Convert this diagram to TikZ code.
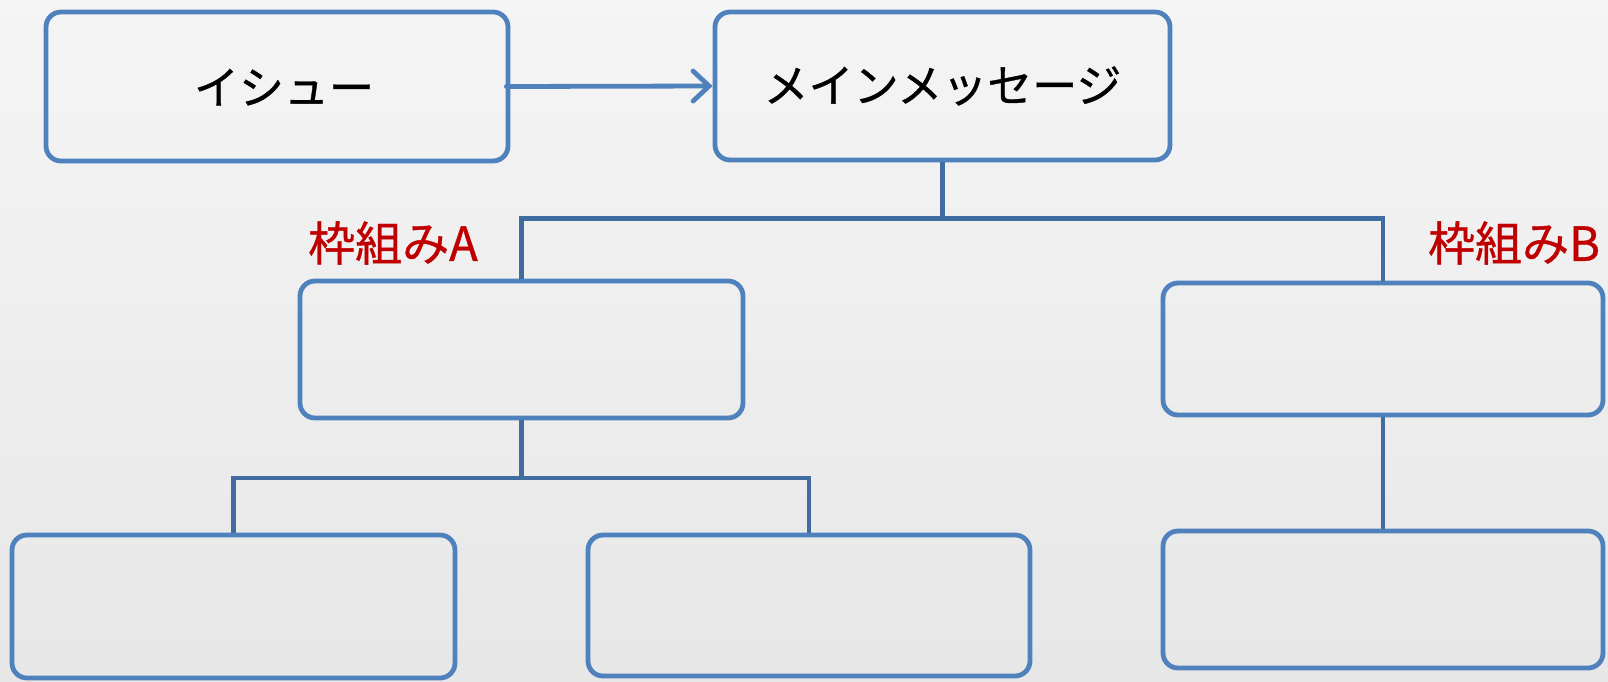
\documentclass[tikz,border=0pt]{standalone}
\usepackage{fontspec}
\setmainfont{Noto Sans CJK JP}
\newfontfamily\jpheavy{Noto Sans CJK JP}[RawFeature={embolden=0.8}]
\usetikzlibrary{arrows.meta}
\definecolor{boxblue}{HTML}{4F81BD}
\definecolor{connblue}{HTML}{406CA2}
\definecolor{labred}{HTML}{C00000}
\begin{document}
\begin{tikzpicture}[x=1pt,y=-1pt,
  box/.style={draw=boxblue, line width=4.8pt, rounded corners=15pt, inner sep=0pt, fill=none},
  conn/.style={draw=connblue, line width=4.2pt},
  maintext/.style={font=\jpheavy\fontsize{45}{50}\selectfont, text=black},
  lab/.style={font=\jpheavy\fontsize{47}{52}\selectfont, text=labred, inner sep=0pt}]
\useasboundingbox (0,0) rectangle (1608,681);
\shade[top color=black!4, bottom color=black!9.5] (0,0) rectangle (1608,681);
% boxes
\node[box, minimum width=462pt, minimum height=149pt, maintext, text depth=0pt] (issue) at (277,86.5) {\hspace{14pt}イシュー};
\node[box, minimum width=455pt, minimum height=148pt, maintext] (main) at (942.5,86) {メインメッセージ};
\node[box, minimum width=443pt, minimum height=137pt] (boxA) at (521.5,349.5) {};
\node[box, minimum width=440pt, minimum height=132pt] (boxB) at (1383,349) {};
\node[box, minimum width=443pt, minimum height=143pt] (a1) at (233.5,606.5) {};
\node[box, minimum width=442pt, minimum height=141pt] (a2) at (809,605.5) {};
\node[box, minimum width=440pt, minimum height=137pt] (b1) at (1383,599.5) {};
% labels
\node[lab] (labA) at (393,243) {枠組みA};
\node[lab] (labB) at (1514,243) {枠組みB};
% arrow
\draw[draw=boxblue, line width=4.8pt, line cap=round, -{Straight Barb[length=16pt, width=30pt, line cap=round]}] ([xshift=-4pt]issue.east) -- (main.west);
% connectors
\coordinate (busT) at (0,218.5);
\coordinate (busA) at (0,478);
\draw[conn] (main.south) -- (main.south |- busT);
\draw[conn] (boxA.north) |- (busT -| boxB.north) -- (boxB.north);
\draw[conn] (boxA.south) -- (boxA.south |- busA);
\draw[conn] (a1.north) |- (busA -| a2.north) -- (a2.north);
\draw[conn] (boxB.south) -- (b1.north);
\end{tikzpicture}
\end{document}
